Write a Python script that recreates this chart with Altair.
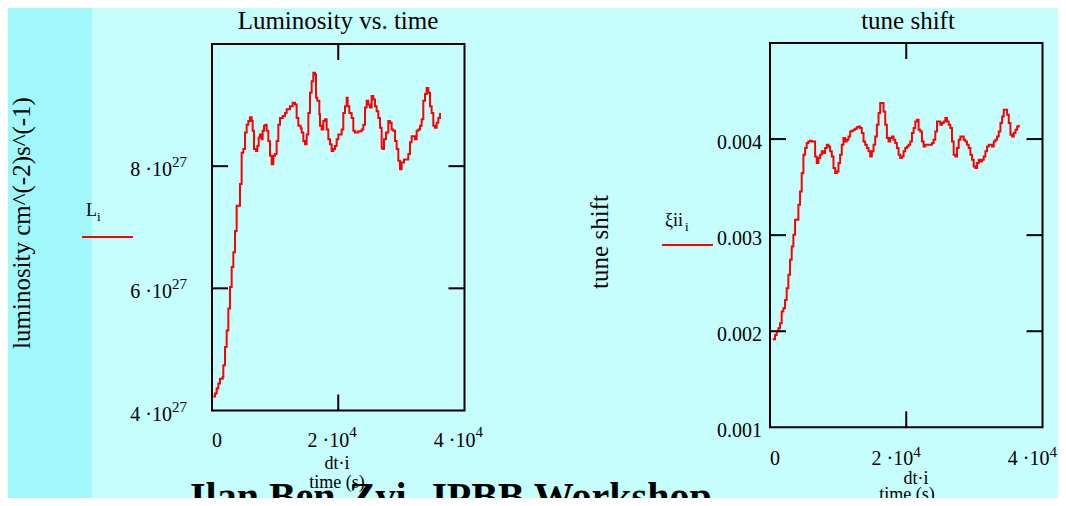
import altair as alt
import pandas as pd

# ---------------- data ----------------
# Luminosity panel: time in s, luminosity in units of 1e27 cm^-2 s^-1
lum_time = [211, 475, 739, 1003, 1267, 1690, 1795, 2059, 2323, 2587, 2851, 3115, 3379, 3643, 3907,
            4435, 4699, 4963, 5227, 5491, 5755, 6019, 6283, 6442, 6653, 6970, 7181, 7392, 7603, 7867,
            8026, 8237, 8448, 8659, 8923, 9187, 9451, 9715, 9979, 10243, 10507, 10771, 11194, 11563,
            11827, 12355, 12778, 13147, 13411, 13675, 14045, 14203, 14467, 14731, 14995, 15259, 15523,
            15787, 16051, 16315, 16474, 16685, 17002, 17107, 17371, 17635, 17899, 18163, 18427, 18691,
            18955, 19219, 19483, 19747, 20011, 20275, 20539, 20803, 21067, 21331, 21490, 21754, 22123,
            22387, 22651, 23179, 23707, 23971, 24235, 24499, 24763, 25027, 25291, 25555, 25819, 26083,
            26347, 26611, 26875, 27034, 27245, 27562, 27931, 28195, 28459, 28723, 28987, 29251, 29515,
            29779, 30043, 30413, 30730, 31099, 31363, 31627, 31891, 32155, 32419, 32683, 32947, 33211,
            33475, 33739, 34003, 34267, 34531, 34795, 35059, 35323, 35587, 35851, 36115]
lum_e27 = [4.23, 4.28, 4.36, 4.44, 4.52, 4.55, 4.74, 5.04, 5.31, 5.67, 6.02, 6.35, 6.59, 6.94, 7.35,
           7.71, 8.22, 8.28, 8.55, 8.68, 8.74, 8.80, 8.74, 8.58, 8.28, 8.25, 8.33, 8.47, 8.52, 8.44,
           8.58, 8.66, 8.68, 8.58, 8.41, 8.17, 8.03, 8.17, 8.20, 8.41, 8.68, 8.79, 8.82, 8.87,
           8.93, 8.98, 9.04, 9.01, 8.79, 8.66, 8.62, 8.55, 8.41, 8.36, 8.52, 8.87, 9.20,
           9.39, 9.53, 9.50, 9.12, 9.07, 8.85, 8.66, 8.60, 8.74, 8.77, 8.60, 8.44, 8.36,
           8.25, 8.28, 8.33, 8.44, 8.52, 8.52, 8.60, 8.87, 8.98, 9.12, 8.98, 8.87, 8.79,
           8.58, 8.55, 8.57, 8.60, 8.68, 8.96, 9.07, 9.01, 8.96, 9.15, 9.09, 8.98, 8.90,
           8.79, 8.63, 8.30, 8.28, 8.44, 8.55, 8.74, 8.71, 8.60, 8.58, 8.41, 8.28, 8.09,
           7.95, 8.06, 8.11, 8.11, 8.20, 8.39, 8.49, 8.49, 8.44, 8.58, 8.60, 8.66, 8.77,
           9.07, 9.18, 9.28, 9.20, 8.98, 8.87, 8.66, 8.63, 8.71, 8.79, 8.87]

# Tune shift panel: time in s, tune shift in units of 1e-3
xi_time = [392, 735, 980, 1226, 1471, 1716, 1961, 2206, 2451, 2696, 2941, 3186, 3431, 3677, 4167,
           4412, 4657, 4902, 5147, 5392, 5637, 5882, 6128, 6373, 6618, 6863, 7108, 7353, 7598, 7843,
           8088, 8333, 8579, 8824, 9069, 9314, 9559, 9804, 10049, 10294, 10539, 10784, 11030, 11275,
           11520, 11765, 12010, 12255, 12500, 12745, 12990, 13235, 13481, 13726, 13971, 14216, 14461,
           14706, 14951, 15196, 15441, 15686, 15932, 16177, 16422, 16667, 16912, 17157, 17402, 17647,
           17892, 18137, 18383, 18628, 18873, 19118, 19363, 19608, 19853, 20098, 20343, 20588, 20834,
           21079, 21324, 21569, 21814, 22059, 22304, 22549, 22794, 23039, 23530, 23775, 24020, 24265,
           24510, 24755, 25000, 25245, 25490, 25736, 25981, 26226, 26471, 26716, 26961, 27206, 27451,
           27696, 27941, 28187, 28432, 28677, 28922, 29167, 29412, 29657, 29902, 30147, 30392, 30638,
           30883, 31128, 31373, 31618, 31863, 32108, 32353, 32598, 32843, 33089, 33334, 33579, 33824,
           34069, 34314, 34559, 34804, 35049, 35294, 35540, 35785, 36030, 36275, 36520]
xi_e3 = [1.917, 1.962, 1.997, 2.031, 2.083, 2.205, 2.240, 2.326, 2.448, 2.587, 2.743, 2.882, 3.003, 3.160, 3.316,
         3.455, 3.646, 3.837, 3.906, 3.958, 3.976, 3.983, 3.976, 3.976, 3.819, 3.750, 3.802, 3.837, 3.872, 3.854,
         3.906, 3.941, 3.924, 3.872, 3.819, 3.698, 3.646, 3.663, 3.750, 3.837, 3.941, 4.010, 3.976, 3.993,
         4.028, 4.080, 4.087, 4.097, 4.108, 4.122, 4.132, 4.115, 4.063, 3.976, 3.941, 3.906, 3.872,
         3.819, 3.872, 3.941, 4.028, 4.149, 4.271, 4.375, 4.375, 4.288, 4.149, 4.010, 3.976, 4.010,
         4.028, 3.993, 3.958, 3.906, 3.837, 3.802, 3.819, 3.872, 3.906, 3.924, 3.941, 3.976, 4.063,
         4.115, 4.184, 4.201, 4.097, 4.080, 3.976, 3.924, 3.941, 3.941, 3.941, 3.958, 3.993, 4.080,
         4.184, 4.184, 4.149, 4.167, 4.184, 4.219, 4.184, 4.149, 4.115, 3.976, 3.837, 3.819, 3.906,
         3.993, 4.028, 4.028, 3.993, 3.976, 3.941, 3.906, 3.837, 3.785, 3.715, 3.698, 3.750, 3.785,
         3.767, 3.785, 3.819, 3.872, 3.924, 3.941, 3.941, 3.924, 3.976, 3.993, 4.028, 4.080, 4.167,
         4.236, 4.306, 4.306, 4.253, 4.167, 4.045, 4.028, 4.063, 4.097, 4.132, 4.149]

# axes
time_domain = [0, 40000]
lum_domain = [4, 10]
xi_domain = [1, 5]
time_inner_ticks = [20000]
lum_inner_ticks = [6, 8]
xi_inner_ticks = [2, 3, 4]
time_lbl_vals = [20000, 40000]
time_lbl_base = ["2 \u00b710", "4 \u00b710"]
time_lbl_exp = ["4", "4"]
lum_lbl_vals = [4, 6, 8]
lum_lbl_base = ["4 \u00b710", "6 \u00b710", "8 \u00b710"]
lum_lbl_exp = ["27", "27", "27"]
xi_lbl_vals = [1, 2, 3, 4]
xi_lbl_text = ["0.001", "0.002", "0.003", "0.004"]

# ---------------- style ----------------
W, H = 1050, 490
BG = "#c6fefe"
STRIPE = "#a0f8fa"
FONT = "Liberation Serif"
RED = "#ff0000"

L_X = dict(domain=time_domain, range=[204, 456.5])
L_Y = dict(domain=lum_domain, range=[402.5, 36])
R_X = dict(domain=time_domain, range=[762, 1034.5])
R_Y = dict(domain=xi_domain, range=[419.3, 35])

one = pd.DataFrame({"k": [0]})


def X(field, sc):
    return alt.X(field, type="quantitative", scale=alt.Scale(**sc), axis=None)


def Y(field, sc):
    return alt.Y(field, type="quantitative", scale=alt.Scale(**sc), axis=None)


def txt(x, y, s, size=20, **kw):
    return alt.Chart(pd.DataFrame({"t": [s]})).mark_text(
        font=FONT, fontSize=size, color="black", **kw
    ).encode(x=alt.value(x), y=alt.value(y), text="t:N")


def panel(sx, sy, times, vals, ydom, yinner, ylab_df, ylab_exp, xlab_y, exp_raise, xdx):
    x0, x1 = sx["range"]
    y0, y1 = sy["range"]  # bottom, top
    frame_df = pd.DataFrame({"xa": [time_domain[0]], "xb": [time_domain[1]],
                             "ya": [ydom[0]], "yb": [ydom[1]]})
    frame = alt.Chart(frame_df).mark_rect(fillOpacity=0, stroke="black", strokeWidth=2).encode(
        x=X("xa", sx), x2="xb", y=Y("ya", sy), y2="yb")
    line = alt.Chart(pd.DataFrame({"t": times, "v": vals})).mark_line(
        color=RED, strokeWidth=2, interpolate="step-after").encode(x=X("t", sx), y=Y("v", sy))
    yt = pd.DataFrame({"v": yinner})
    ytl = alt.Chart(yt).mark_rule(color="black", strokeWidth=2).encode(
        y=Y("v", sy), x=alt.value(x0), x2=alt.value(x0 + 16))
    ytr = alt.Chart(yt).mark_rule(color="black", strokeWidth=2).encode(
        y=Y("v", sy), x=alt.value(x1 - 16), x2=alt.value(x1))
    xt = pd.DataFrame({"v": time_inner_ticks})
    xtt = alt.Chart(xt).mark_rule(color="black", strokeWidth=2).encode(
        x=X("v", sx), y=alt.value(y1), y2=alt.value(y1 + 16))
    xtb = alt.Chart(xt).mark_rule(color="black", strokeWidth=2).encode(
        x=X("v", sx), y=alt.value(y0 - 16), y2=alt.value(y0))
    layers = [frame, line, ytl, ytr, xtt, xtb]

    # y labels
    if ylab_exp:
        ylb = alt.Chart(ylab_df).mark_text(font=FONT, fontSize=20, color="black", align="right",
                                           baseline="alphabetic", dy=10).encode(
            y=Y("v", sy), x=alt.value(x0 - 40), text="base:N")
        yle = alt.Chart(ylab_df).mark_text(font=FONT, fontSize=15, color="black", align="left",
                                           baseline="alphabetic", dy=1).encode(
            y=Y("v", sy), x=alt.value(x0 - 40), text="exp:N")
        layers += [ylb, yle]
    else:
        ylb = alt.Chart(ylab_df).mark_text(font=FONT, fontSize=20, color="black", align="right",
                                           baseline="alphabetic", dy=10).encode(
            y=Y("v", sy), x=alt.value(x0 - 8), text="base:N")
        layers += [ylb]

    # x labels
    xdf = pd.DataFrame({"v": time_lbl_vals, "base": time_lbl_base, "exp": time_lbl_exp})
    zero = alt.Chart(pd.DataFrame({"v": [0], "base": ["0"]})).mark_text(
        font=FONT, fontSize=20, color="black", align="center", baseline="alphabetic", dx=5).encode(
        x=X("v", sx), y=alt.value(xlab_y), text="base:N")
    xlb = alt.Chart(xdf).mark_text(font=FONT, fontSize=20, color="black", align="right",
                                   baseline="alphabetic", dx=xdx).encode(
        x=X("v", sx), y=alt.value(xlab_y), text="base:N")
    xle = alt.Chart(xdf).mark_text(font=FONT, fontSize=15, color="black", align="left",
                                   baseline="alphabetic", dx=xdx).encode(
        x=X("v", sx), y=alt.value(xlab_y - exp_raise), text="exp:N")
    layers += [zero, xlb, xle]
    return alt.layer(*layers)


left = panel(L_X, L_Y, lum_time, lum_e27, lum_domain, lum_inner_ticks,
             pd.DataFrame({"v": lum_lbl_vals, "base": lum_lbl_base, "exp": lum_lbl_exp}),
             True, 439, 10, 11)
right = panel(R_X, R_Y, xi_time, xi_e3, xi_domain, xi_inner_ticks,
              pd.DataFrame({"v": xi_lbl_vals, "base": xi_lbl_text}),
              False, 457, 8, 7)

stripe = alt.Chart(one).mark_rect(color=STRIPE).encode(
    x=alt.value(0), x2=alt.value(84), y=alt.value(0), y2=alt.value(H))

decor = [
    stripe,
    txt(330, 21, "Luminosity vs. time", 25, align="center", baseline="alphabetic"),
    txt(900, 21, "tune shift", 25, align="center", baseline="alphabetic"),
    txt(14, 215, "luminosity cm^(-2)s^(-1)", 25, align="center", baseline="middle", angle=270),
    txt(592, 234, "tune shift", 25, align="center", baseline="middle", angle=270),
    txt(329, 461, "dt\u00b7i", 18, align="center", baseline="alphabetic"),
    txt(329, 480, "time (s)", 18, align="center", baseline="alphabetic"),
    txt(908, 476, "dt\u00b7i", 18, align="center", baseline="alphabetic"),
    txt(899, 492, "time (s)", 18, align="center", baseline="alphabetic"),
    # legend entries
    txt(78, 208, "L", 18, align="left", baseline="alphabetic"),
    txt(89, 213, "i", 13, align="left", baseline="alphabetic"),
    alt.Chart(one).mark_rule(color=RED, strokeWidth=2).encode(
        x=alt.value(74), x2=alt.value(125), y=alt.value(229)),
    txt(657, 218, "\u03beii", 18, align="left", baseline="alphabetic"),
    txt(677, 223, "i", 13, align="left", baseline="alphabetic"),
    alt.Chart(one).mark_rule(color=RED, strokeWidth=2).encode(
        x=alt.value(654), x2=alt.value(705), y=alt.value(237)),
    txt(182, 502, "Ilan Ben-Zvi, JPBB Workshop", 40, align="left", baseline="alphabetic",
        fontWeight="bold"),
]

chart = alt.layer(*decor, left, right).resolve_scale(
    x="independent", y="independent"
).properties(
    width=W, height=H, padding=0, autosize=alt.AutoSizeParams(type="none")
).configure(background=BG).configure_view(strokeWidth=0)

chart.save("out.html", embed_options={"renderer": "svg", "actions": False})
